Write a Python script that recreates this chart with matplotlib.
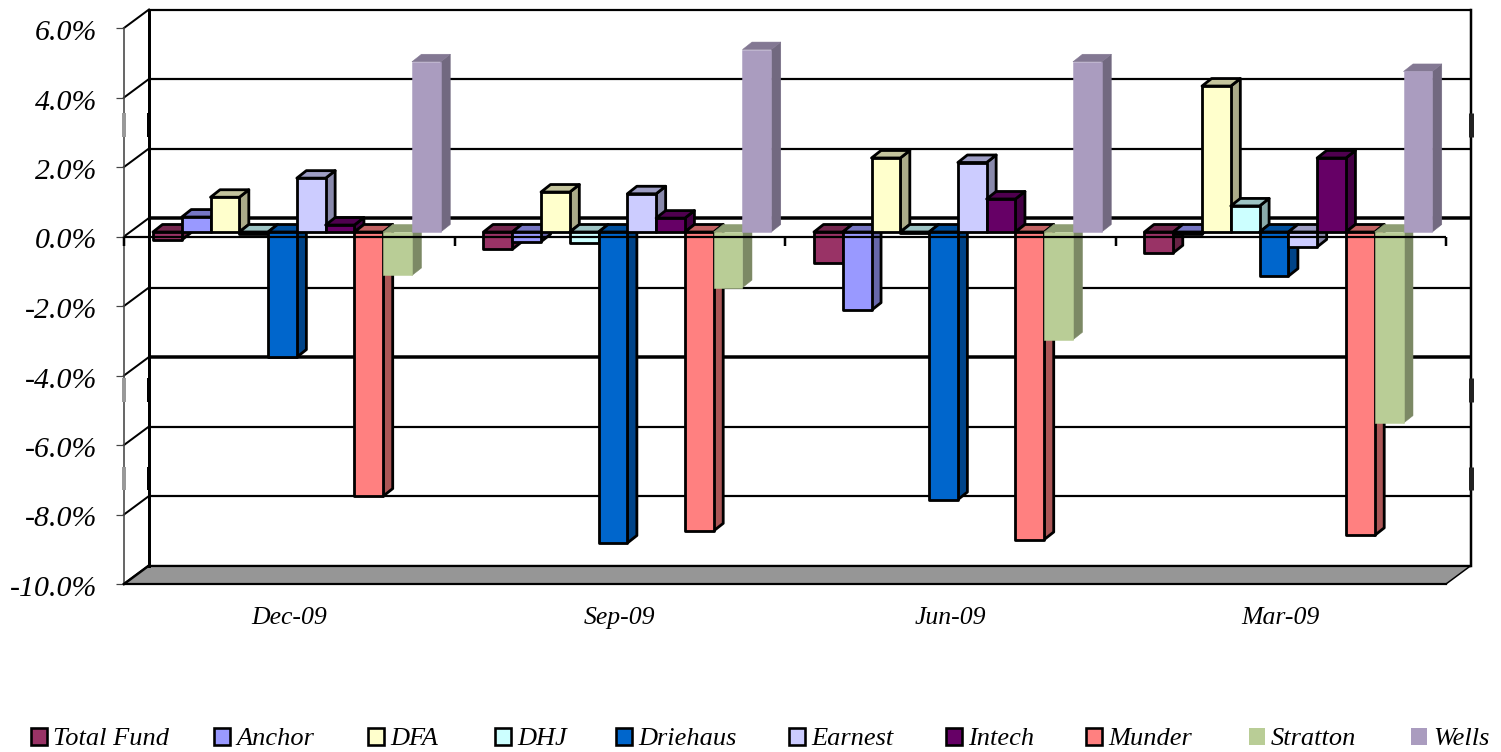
import matplotlib

matplotlib.use('agg')
import matplotlib.pyplot as plt
from matplotlib.patches import Polygon, Patch
from matplotlib.transforms import ScaledTranslation

plt.rcParams['font.family'] = ['Liberation Serif', 'DejaVu Serif']
plt.rcParams['font.style'] = 'italic'

quarters = ['Dec-09', 'Sep-09', 'Jun-09', 'Mar-09']
funds = ['Total Fund', 'Anchor', 'DFA', 'DHJ', 'Driehaus', 'Earnest', 'Intech', 'Munder', 'Stratton', 'Wells']

total_fund = [-0.23, -0.5, -0.9, -0.6]
anchor = [0.43, -0.28, -2.25, -0.06]
dfa = [1.0, 1.15, 2.13, 4.2]
dhj = [-0.05, -0.32, -0.03, 0.75]
driehaus = [-3.6, -8.95, -7.7, -1.27]
earnest = [1.55, 1.1, 2.0, -0.43]
intech = [0.2, 0.4, 0.95, 2.13]
munder = [-7.6, -8.6, -8.85, -8.73]
stratton = [-1.25, -1.6, -3.1, -5.5]
wells = [4.9, 5.25, 4.9, 4.62]

series = [total_fund, anchor, dfa, dhj, driehaus, earnest, intech, munder, stratton, wells]

colors = ['#993366', '#9999FF', '#FFFFCC', '#CCFFFF', '#0066CC', '#CCCCFF', '#660066', '#FF8080', '#B9CD96', '#AA9CBF']
outlined = [True] * 8 + [False] * 2

y_ticks = [6, 4, 2, 0, -2, -4, -6, -8, -10]
y_labels = ['6.0%', '4.0%', '2.0%', '0.0%', '-2.0%', '-4.0%', '-6.0%', '-8.0%', '-10.0%']

# left edge of each legend entry, in reference pixels
legend_left = [31, 214, 368, 495, 616, 789, 946, 1086, 1249, 1411]

# pixel sizes of the reference, turned into data units
PX_X = 1 / 330.75
PX_Y = 1 / 34.75
WALL_DX = 25 * PX_X
WALL_DY = 18.5 * PX_Y
BAR_DX = 9.5 * PX_X
BAR_DY = 7.5 * PX_Y
BAR_W = 28.8 * PX_X
BAR_START = 29 * PX_X
BAR_ZERO = 4.5 * PX_Y
OUTLINE = 2.8


def px(width):
    return width * 0.72


def shade(color, factor):
    rgb = matplotlib.colors.to_rgb(color)
    return tuple(c * factor for c in rgb)


def draw_bar(ax, x, value, color, outline, z):
    y0 = BAR_ZERO
    y1 = BAR_ZERO + value
    low, high = min(y0, y1), max(y0, y1)
    lw = px(OUTLINE) if outline else px(0.5)
    side = [(x + BAR_W, low), (x + BAR_W + BAR_DX, low + BAR_DY), (x + BAR_W + BAR_DX, high + BAR_DY), (x + BAR_W, high)]
    top = [(x, high), (x + BAR_W, high), (x + BAR_W + BAR_DX, high + BAR_DY), (x + BAR_DX, high + BAR_DY)]
    front = [(x, low), (x + BAR_W, low), (x + BAR_W, high), (x, high)]
    ax.add_patch(Polygon(side, closed=True, facecolor=shade(color, 0.67), edgecolor='black' if outline else shade(color, 0.67), lw=lw, zorder=z, joinstyle='round'))
    ax.add_patch(Polygon(top, closed=True, facecolor=shade(color, 0.77), edgecolor='black' if outline else shade(color, 0.77), lw=lw, zorder=z, joinstyle='round'))
    ax.add_patch(Polygon(front, closed=True, facecolor=color, edgecolor='black' if outline else color, lw=lw, zorder=z, joinstyle='round'))


fig = plt.figure(figsize=(15.01, 7.52), dpi=100)
ax = fig.add_axes([124 / 1501, (752 - 584) / 752, (1471 - 124) / 1501, 575 / 752])
ax.set_xlim(0, 4 + WALL_DX)
ax.set_ylim(-10, 6 + 19 * PX_Y)
for spine in ax.spines.values():
    spine.set_visible(False)

n = len(quarters)

# back wall gridlines
for tick in y_ticks:
    lw = px(3.5) if tick in (0, -4) else px(2.2)
    ax.plot([WALL_DX, n + WALL_DX], [tick + WALL_DY] * 2, color='black', lw=lw, zorder=1, solid_capstyle='butt', clip_on=False)
    # side wall diagonal
    ax.plot([0, WALL_DX], [tick, tick + WALL_DY], color='black', lw=px(2), zorder=1, clip_on=False)

ax.plot([WALL_DX, WALL_DX], [-10 + WALL_DY, 6 + WALL_DY], color='black', lw=px(3), zorder=2, solid_capstyle='projecting', clip_on=False)
ax.plot([n + WALL_DX, n + WALL_DX], [-10 + WALL_DY, 6 + WALL_DY], color='black', lw=px(2.5), zorder=2, clip_on=False, solid_capstyle='projecting')
ax.plot([0, 0], [-10, 6], color='#444444', lw=px(1.6), zorder=2, clip_on=False)

# floor
floor = [(0, -10), (n, -10), (n + WALL_DX, -10 + WALL_DY), (WALL_DX, -10 + WALL_DY)]
ax.add_patch(Polygon(floor, closed=True, facecolor='#969696', edgecolor='none', zorder=1.5, clip_on=False))
ax.plot([0, n], [-10, -10], color='black', lw=px(2.2), zorder=2, clip_on=False)
ax.plot([WALL_DX, n + WALL_DX], [-10 + WALL_DY] * 2, color='black', lw=px(2.2), zorder=2)
ax.plot([0, WALL_DX], [-10, -10 + WALL_DY], color='black', lw=px(2.5), zorder=2, clip_on=False)
ax.plot([n, n + WALL_DX], [-10, -10 + WALL_DY], color='black', lw=px(1.5), zorder=2, clip_on=False)

# small dark blocks the reference has along the walls
for low, high in [(113, 137), (378, 402), (467, 490)]:
    y_low = 6 - (high - 28) * PX_Y
    y_high = 6 - (low - 28) * PX_Y
    ax.plot([0, 0], [y_low, y_high], color='#999999', lw=px(4), zorder=2, solid_capstyle='butt', clip_on=False)
    ax.plot([WALL_DX, WALL_DX], [y_low, y_high], color='black', lw=px(4), zorder=2, solid_capstyle='butt')
    ax.plot([n + WALL_DX, n + WALL_DX], [y_low, y_high], color='#222222', lw=px(5), zorder=2, solid_capstyle='butt', clip_on=False)

# bars, left to right so each one hides the side of the one before it
z = 3
for q in range(n):
    for s, values in enumerate(series):
        x = q + BAR_START + s * BAR_W
        draw_bar(ax, x, values[q], colors[s], outlined[s], z)
        z += 0.01

# zero axis sits in front of the bar tops
ax.plot([0, n], [0, 0], color='black', lw=px(2.2), zorder=20, solid_capstyle='butt')
for q in range(n + 1):
    ax.plot([q, q], [0, -9 * PX_Y], color='black', lw=px(2.5), zorder=20, solid_capstyle='butt', clip_on=False)

ax.set_yticks(y_ticks)
ax.set_yticklabels(y_labels, fontsize=21.5, fontstyle='italic')
ax.tick_params(axis='y', length=6, width=px(1.2), color='#444444', pad=13.5)
shift_down = ScaledTranslation(0, -2 / 100, fig.dpi_scale_trans)
for label in ax.get_yticklabels():
    label.set_transform(label.get_transform() + shift_down)
ax.set_xticks([q + 0.5 for q in range(n)])
ax.set_xticklabels(quarters, fontsize=18.5, fontstyle='italic')
ax.tick_params(axis='x', length=0, pad=16.5)

for s, fund in enumerate(funds):
    handle = Patch(facecolor=colors[s], edgecolor='black' if outlined[s] else colors[s],
                   lw=px(2.6) if outlined[s] else 0, label=fund)
    fig.legend(handles=[handle], loc='center left', bbox_to_anchor=(legend_left[s] / 1501, 1 - 739 / 752),
               frameon=False, prop={'size': 19, 'style': 'italic', 'family': 'Liberation Serif'},
               handlelength=0.62, handleheight=0.62, handletextpad=0.22, borderpad=0, borderaxespad=0)

fig.savefig('out.png', dpi=100)
